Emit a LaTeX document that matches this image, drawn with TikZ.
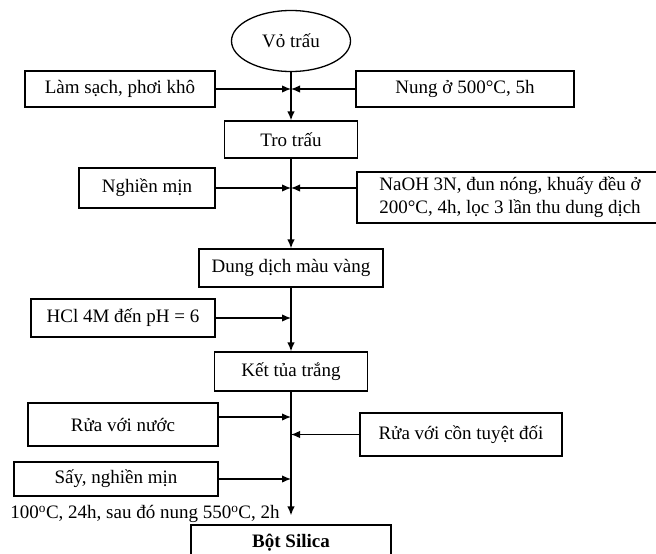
\documentclass[tikz,border=0pt]{standalone}
\usepackage{fontspec}
\setmainfont{Liberation Serif}
\usetikzlibrary{shapes,arrows.meta,positioning,calc}

\begin{document}
\begin{tikzpicture}[x=1pt,y=-1pt,
    box/.style={draw, line width=1.3pt, inner sep=0pt, align=center, font=\fontsize{19}{23}\selectfont},
    flow/.style={-{Latex[length=9pt,width=7.5pt]}, line width=1.3pt}]
    \useasboundingbox (0,0) rectangle (656,554);

    \node[box, ellipse, minimum width=119pt, minimum height=61pt] (vo) at (291,41) {Vỏ trấu};
    \node[box, minimum width=190pt, minimum height=36pt] (lamsach) at (120,89) {Làm sạch, phơi khô};
    \node[box, minimum width=218pt, minimum height=36pt] (nung) at (465,89) {Nung ở 500°C, 5h};
    \node[box, minimum width=133pt, minimum height=37pt] (tro) at (291,139.5) {Tro trấu};
    \node[box, minimum width=136pt, minimum height=40pt] (nghien) at (147,188) {Nghiền mịn};
    \node[box, minimum width=306pt, minimum height=51pt] (naoh) at (510,197.5) {NaOH 3N, đun nóng, khuấy đều ở\\200°C, 4h, lọc 3 lần thu dung dịch};
    \node[box, minimum width=184pt, minimum height=38pt] (dungdich) at (291,268) {Dung dịch màu vàng};
    \node[box, minimum width=184pt, minimum height=38pt] (hcl) at (123,318) {HCl 4M đến pH = 6};
    \node[box, minimum width=153pt, minimum height=39pt] (kettua) at (291,371.5) {Kết tủa trắng};
    \node[box, minimum width=190pt, minimum height=43pt] (ruanuoc) at (123,424.5) {Rửa với nước};
    \node[box, minimum width=202pt, minimum height=43pt] (ruacon) at (461,434.5) {Rửa với cồn tuyệt đối};
    \node[box, minimum width=204pt, minimum height=34pt] (say) at (116,479) {Sấy, nghiền mịn};
    \node[box, draw=none] (nhiet) at (145,514) {100\textsuperscript{o}C, 24h, sau đó nung 550\textsuperscript{o}C, 2h};
    \node[box, minimum width=200pt, minimum height=36pt] (silica) at (291,543) {\textbf{Bột Silica}};

    % main line
    \draw[flow] (vo) -- (tro);
    \draw[flow] (tro) -- (dungdich);
    \draw[flow] (dungdich) -- (kettua);
    \draw[flow] (kettua) -- ([yshift=9pt]silica.north);

    % side inputs
    \draw[flow] (lamsach) -- (lamsach -| vo);
    \draw[flow] (nung) -- (nung -| vo);
    \draw[flow] (nghien) -- (nghien -| tro);
    \draw[flow] (naoh.west |- nghien.east) -- (nghien -| tro);
    \draw[flow] (hcl) -- (hcl -| dungdich);
    \draw[flow] ([yshift=7.5pt]ruanuoc.east) -- ([yshift=7.5pt]ruanuoc.east -| kettua.south);
    \draw[flow] (ruacon) -- (ruacon -| kettua);
    \draw[flow] (say) -- (say -| kettua);
\end{tikzpicture}
\end{document}
